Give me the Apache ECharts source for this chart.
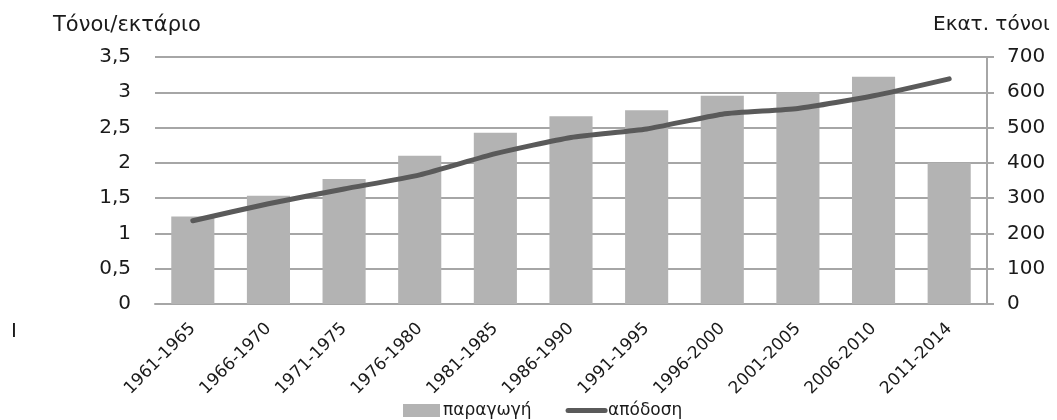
<!DOCTYPE html>
<html>
<head>
<meta charset="utf-8">
<script src="https://cdn.jsdelivr.net/npm/echarts@6/dist/echarts.min.js"></script>
<style>
  html, body { margin: 0; padding: 0; background: #fff; }
  #chart { width: 1057px; height: 420px; }
</style>
</head>
<body>
<div id="chart"></div>
<script>
const periods = ['1961-1965', '1966-1970', '1971-1975', '1976-1980', '1981-1985', '1986-1990',
  '1991-1995', '1996-2000', '2001-2005', '2006-2010', '2011-2014']
// παραγωγή, εκατ. τόνοι (right axis)
const production = [248, 307, 354, 420, 485, 532, 549, 590, 600, 644, 400]
// απόδοση, τόνοι/εκτάριο (left axis)
const yieldPerHa = [1.18, 1.42, 1.63, 1.83, 2.13, 2.36, 2.48, 2.69, 2.77, 2.95, 3.19]

const FONT = 'DejaVu Sans'
const TEXT = '#1a1a1a'
const GRID_LINE = '#a6a6a6'
const LINE_COLOR = '#5a5a5a'

const chart = echarts.init(document.getElementById('chart'))

chart.setOption({
  animation: false,
  textStyle: { fontFamily: FONT, color: TEXT },
  grid: {
    left: 155,
    right: 70,
    top: 57,
    bottom: 116,
    containLabel: false,
    outerBoundsMode: 'none'
  },
  legend: {
    left: 403,
    top: 402,
    padding: 0,
    itemWidth: 37,
    itemHeight: 13,
    itemGap: 34,
    textStyle: { fontFamily: FONT, fontSize: 17, color: TEXT, padding: [0, 0, 0, -2] },
    data: [
      { name: 'παραγωγή', icon: 'rect' },
      {
        name: 'απόδοση',
        itemStyle: { color: 'rgba(0,0,0,0)', borderColor: 'rgba(0,0,0,0)', borderWidth: 0 },
        lineStyle: { color: LINE_COLOR, width: 5 }
      }
    ]
  },
  xAxis: {
    type: 'category',
    data: periods,
    axisLine: { lineStyle: { color: GRID_LINE, width: 2 } },
    axisTick: { show: false },
    axisLabel: {
      rotate: 45,
      margin: 22,
      fontFamily: FONT,
      fontSize: 17,
      color: TEXT
    }
  },
  yAxis: [
    {
      type: 'value',
      min: 0,
      max: 3.5,
      interval: 0.5,
      axisLine: { show: false },
      axisTick: { show: false },
      splitLine: { lineStyle: { color: GRID_LINE, width: 2 } },
      axisLabel: {
        margin: 24,
        fontFamily: FONT,
        fontSize: 20,
        color: TEXT,
        formatter: (v) => String(v).replace('.', ',')
      }
    },
    {
      type: 'value',
      min: 0,
      max: 700,
      interval: 100,
      position: 'right',
      axisLine: { show: true, lineStyle: { color: GRID_LINE, width: 2 } },
      axisTick: { show: true, length: 7, lineStyle: { color: GRID_LINE, width: 2 } },
      splitLine: { show: false },
      axisLabel: {
        margin: 20,
        fontFamily: FONT,
        fontSize: 20,
        color: TEXT
      }
    }
  ],
  series: [
    {
      name: 'παραγωγή',
      type: 'bar',
      yAxisIndex: 1,
      data: production,
      barCategoryGap: '43%',
      itemStyle: { color: '#b3b3b3' }
    },
    {
      name: 'απόδοση',
      type: 'line',
      yAxisIndex: 0,
      data: yieldPerHa,
      smooth: 0.2,
      symbol: 'none',
      lineStyle: { color: LINE_COLOR, width: 5, cap: 'round' },
      itemStyle: { color: LINE_COLOR }
    }
  ],
  graphic: [
    {
      type: 'text',
      left: 53,
      top: 15,
      style: { text: 'Τόνοι/εκτάριο', fontFamily: FONT, fontSize: 21, fill: TEXT }
    },
    {
      type: 'text',
      left: 933,
      top: 15,
      style: { text: 'Εκατ. τόνοι', fontFamily: FONT, fontSize: 20, fill: TEXT }
    },
    {
      type: 'text',
      left: 11,
      top: 322,
      style: { text: 'I', fontFamily: FONT, fontSize: 20, fill: TEXT }
    }
  ]
})
</script>
</body>
</html>
